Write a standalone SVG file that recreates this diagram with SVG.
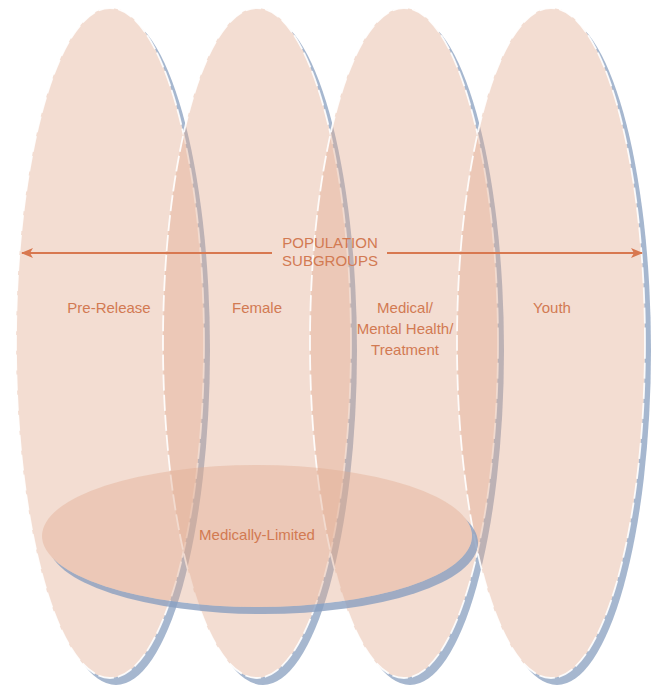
<svg xmlns="http://www.w3.org/2000/svg" width="658" height="689" viewBox="0 0 658 689">
  <style>
    .shadow { fill: #a6b7cf; }
    .fill { fill: #e1aa8f; fill-opacity: 0.4; }
    .outline { fill: none; stroke: #ffffff; stroke-width: 1.8; stroke-dasharray: 16 4; stroke-opacity: 0.9; }
    .hshadow { fill: #8a9fbf; fill-opacity: 0.8; }
    .label { font-family: "Liberation Sans", Arial, sans-serif; font-size: 15px; fill: #d27a52; text-anchor: middle; }
    .arrow { stroke: #d87850; stroke-width: 2; fill: none; }
  </style>
  <defs>
    <mask id="mV" maskUnits="userSpaceOnUse" x="-150" y="-20" width="300" height="730">
      <rect x="-150" y="-20" width="300" height="730" fill="#fff"/>
      <ellipse cx="0" cy="343" rx="94" ry="335" fill="#000"/>
    </mask>
    <mask id="mH" maskUnits="userSpaceOnUse" x="0" y="420" width="658" height="269">
      <rect x="0" y="420" width="658" height="269" fill="#fff"/>
      <ellipse cx="257" cy="536" rx="215" ry="71" fill="#000"/>
    </mask>
    <marker id="head" viewBox="0 0 12 10" refX="11" refY="5" markerWidth="12" markerHeight="10" markerUnits="userSpaceOnUse" orient="auto">
      <path d="M0,0 L12,5 L0,10 L3,5 Z" fill="#d87850"/>
    </marker>
  </defs>
  <rect width="658" height="689" fill="#ffffff"/>

  <g id="pre-release" transform="translate(110,0)">
    <ellipse class="shadow" cx="6" cy="350" rx="94" ry="335" mask="url(#mV)"/>
    <ellipse class="fill" cx="0" cy="343" rx="94" ry="335"/>
    <ellipse class="outline" cx="0" cy="343" rx="94" ry="335"/>
    <text class="label" x="-1" y="313">Pre-Release</text>
  </g>
  <g id="female" transform="translate(257,0)">
    <ellipse class="shadow" cx="6" cy="350" rx="94" ry="335" mask="url(#mV)"/>
    <ellipse class="fill" cx="0" cy="343" rx="94" ry="335"/>
    <ellipse class="outline" cx="0" cy="343" rx="94" ry="335"/>
    <text class="label" x="0" y="313">Female</text>
  </g>
  <g id="medical" transform="translate(404,0)">
    <ellipse class="shadow" cx="6" cy="350" rx="94" ry="335" mask="url(#mV)"/>
    <ellipse class="fill" cx="0" cy="343" rx="94" ry="335"/>
    <ellipse class="outline" cx="0" cy="343" rx="94" ry="335"/>
    <text class="label" x="1" y="313">Medical/</text>
    <text class="label" x="1" y="334">Mental Health/</text>
    <text class="label" x="1" y="355">Treatment</text>
  </g>
  <g id="youth" transform="translate(551,0)">
    <ellipse class="shadow" cx="6" cy="350" rx="94" ry="335" mask="url(#mV)"/>
    <ellipse class="fill" cx="0" cy="343" rx="94" ry="335"/>
    <ellipse class="outline" cx="0" cy="343" rx="94" ry="335"/>
    <text class="label" x="1" y="313">Youth</text>
  </g>
  <g id="medically-limited">
    <ellipse class="hshadow" cx="263" cy="543" rx="215" ry="71" mask="url(#mH)"/>
    <ellipse class="fill" cx="257" cy="536" rx="215" ry="71"/>
    <text class="label" x="257" y="540">Medically-Limited</text>
  </g>

  <g id="connectors">
    <line class="arrow" x1="272" y1="253" x2="22" y2="253" marker-end="url(#head)"/>
    <line class="arrow" x1="387" y1="253" x2="642" y2="253" marker-end="url(#head)"/>
    <text class="label" x="330" y="248">POPULATION</text>
    <text class="label" x="330" y="266">SUBGROUPS</text>
  </g>
</svg>
